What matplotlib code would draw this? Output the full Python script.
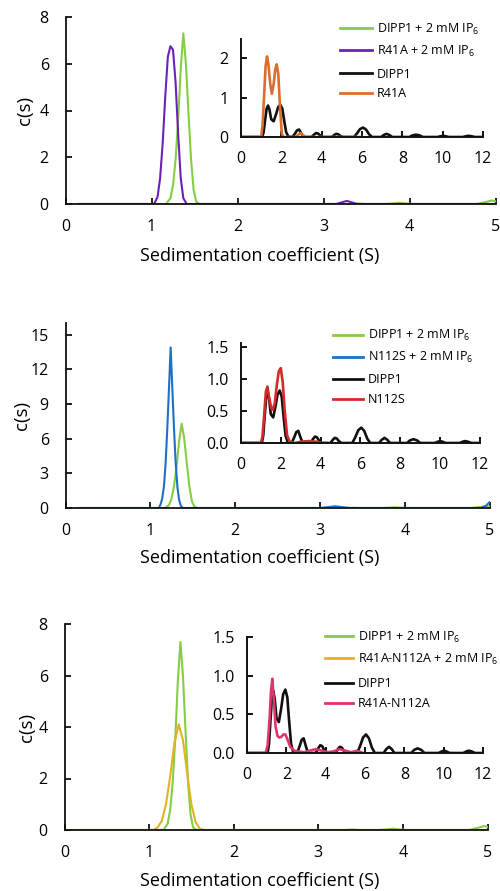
import matplotlib
matplotlib.use("Agg")
import matplotlib.pyplot as plt

plt.rcParams['font.family'] = ['Open Sans', 'DejaVu Sans']
plt.rcParams['mathtext.fontset'] = 'custom'
plt.rcParams['mathtext.rm'] = 'Open Sans'

# ---------------- data ----------------
# shared: DIPP1 + 2 mM IP6 (main panels)
dipp1_ip6_x = [0.15, 1.17, 1.22, 1.25, 1.28, 1.31, 1.34, 1.37, 1.40, 1.43, 1.46, 1.49,
               1.52, 1.56, 3.30, 3.40, 3.50, 3.70, 3.80, 3.88, 3.96, 4.05, 4.78, 4.88,
               4.96, 5.00]
dipp1_ip6_y = [0, 0, 0.25, 0.8, 1.9, 3.6, 5.8, 7.3, 6.0, 3.9, 1.9, 0.6,
               0.1, 0, 0, 0.02, 0, 0, 0.02, 0.05, 0.02, 0, 0, 0.08,
               0.15, 0.12]

# shared: DIPP1 (insets)
dipp1_x = [0, 1.05, 1.12, 1.20, 1.27, 1.34, 1.41, 1.50, 1.62, 1.74,
           1.84, 1.95, 2.05, 2.14, 2.24, 2.35, 2.55, 2.68, 2.78, 2.88,
           2.98, 3.10, 3.50, 3.62, 3.72, 3.82, 3.92, 4.05, 4.50, 4.62,
           4.72, 4.82, 4.92, 5.05, 5.60, 5.75, 5.90, 6.05, 6.20, 6.35,
           6.50, 6.95, 7.08, 7.22, 7.36, 7.50, 8.35, 8.50, 8.68, 8.86,
           9.02, 9.75, 9.90, 10.02, 10.14, 10.30, 11.00, 11.15, 11.28, 11.42,
           11.60, 12.00]
dipp1_y = [0, 0, 0.12, 0.45, 0.72, 0.80, 0.70, 0.45, 0.40, 0.58,
           0.76, 0.82, 0.72, 0.42, 0.12, 0.01, 0, 0.09, 0.17, 0.19,
           0.10, 0, 0, 0.06, 0.10, 0.09, 0.04, 0, 0, 0.05,
           0.08, 0.07, 0.03, 0, 0, 0.09, 0.20, 0.24, 0.19, 0.07,
           0, 0, 0.05, 0.08, 0.05, 0, 0, 0.04, 0.06, 0.04,
           0, 0, 0.02, 0.03, 0.02, 0, 0, 0.02, 0.03, 0.02,
           0, 0]

# panel 1
r41a_ip6_x = [0.15, 1.03, 1.07, 1.10, 1.13, 1.16, 1.19, 1.22, 1.25, 1.28, 1.31, 1.34,
              1.37, 1.41, 3.15, 3.22, 3.27, 3.32, 3.39, 5.0]
r41a_ip6_y = [0, 0, 0.3, 1.1, 2.6, 4.6, 6.3, 6.75, 6.6, 5.2, 3.0, 1.1,
              0.25, 0, 0, 0.08, 0.13, 0.08, 0, 0]
r41a_x = [0, 1.00, 1.07, 1.15, 1.22, 1.29, 1.36, 1.45, 1.53, 1.62, 1.70, 1.77, 1.85,
          1.93, 2.02, 2.10, 2.70, 2.85, 2.95, 3.05, 3.20, 6.0]
r41a_y = [0, 0, 0.3, 1.1, 1.8, 2.05, 1.85, 1.35, 1.1, 1.35, 1.72, 1.85, 1.6,
          0.8, 0.1, 0, 0, 0.06, 0.10, 0.06, 0, 0]

# panel 2
n112s_ip6_x = [0.2, 1.10, 1.12, 1.14, 1.16, 1.18, 1.20, 1.22, 1.24, 1.26, 1.28, 1.30,
               1.32, 1.34, 1.36, 1.38, 3.00, 3.10, 3.18, 3.26, 3.36, 4.90, 4.96, 5.00]
n112s_ip6_y = [0, 0, 0.3, 0.8, 1.8, 3.8, 6.8, 10.3, 13.9, 10.3, 6.8, 3.8,
               1.8, 0.7, 0.2, 0, 0, 0.08, 0.15, 0.08, 0, 0, 0.2, 0.5]
n112s_x = [0, 1.00, 1.08, 1.17, 1.25, 1.33, 1.42, 1.52, 1.60, 1.70, 1.80, 1.90, 2.00,
           2.10, 2.20, 2.32, 2.45, 2.70, 3.00, 3.40, 3.80, 4.10, 4.30]
n112s_y = [0, 0, 0.1, 0.45, 0.80, 0.88, 0.70, 0.55, 0.52, 0.62, 0.90, 1.12, 1.17,
           0.95, 0.50, 0.12, 0.02, 0, 0.02, 0.03, 0.02, 0, 0]

# panel 3
dm_ip6_x = [0, 1.05, 1.10, 1.15, 1.20, 1.25, 1.30, 1.35, 1.40, 1.45, 1.50, 1.55,
            1.60, 1.65, 5.0]
dm_ip6_y = [0, 0, 0.1, 0.35, 1.0, 2.1, 3.4, 4.1, 3.5, 2.2, 1.0, 0.3,
            0.05, 0, 0]
dm_x = [0, 0.95, 1.05, 1.15, 1.22, 1.29, 1.36, 1.45, 1.55, 1.65, 1.75, 1.85, 1.95,
        2.05, 2.20, 2.40, 2.60, 2.90, 3.20, 3.50, 3.80, 4.10, 4.40, 4.70, 5.00,
        5.30, 5.60, 5.90]
dm_y = [0, 0, 0.1, 0.45, 0.80, 0.96, 0.70, 0.35, 0.22, 0.20, 0.21, 0.24, 0.24,
        0.18, 0.08, 0.03, 0.02, 0.01, 0.03, 0.05, 0.03, 0.01, 0.02, 0.05, 0.03,
        0.01, 0.03, 0]

main_xticks = [0, 1, 2, 3, 4, 5]
inset_xticks = [0, 2, 4, 6, 8, 10, 12]
p1_yticks = [0, 2, 4, 6, 8]
p2_yticks = [0, 3, 6, 9, 12, 15]
p3_yticks = [0, 2, 4, 6, 8]
p1_inset_yticks = [0, 1, 2]
p2_inset_yticks = [0.0, 0.5, 1.0, 1.5]
p3_inset_yticks = [0.0, 0.5, 1.0, 1.5]

lbl_dipp1_ip6 = r'DIPP1 + 2 mM IP$_\mathregular{6}$'
lbl_r41a_ip6 = r'R41A + 2 mM IP$_\mathregular{6}$'
lbl_n112s_ip6 = r'N112S + 2 mM IP$_\mathregular{6}$'
lbl_dm_ip6 = r'R41A-N112A + 2 mM IP$_\mathregular{6}$'
lbl_dipp1 = 'DIPP1'
lbl_r41a = 'R41A'
lbl_n112s = 'N112S'
lbl_dm = 'R41A-N112A'

C_GREEN = '#86cc45'
C_PURPLE = '#6a22b8'
C_ORANGE = '#dc6d2a'
C_BLUE = '#1f6fc8'
C_RED = '#d62a2a'
C_GOLD = '#e2b320'
C_PINK = '#e0336f'
C_BLACK = '#111111'

# ---------------- figure ----------------
W, H = 500, 891
fig = plt.figure(figsize=(W / 100, H / 100), dpi=100)


def add_ax(left, right, bottom, top):
    return fig.add_axes([left / W, 1 - bottom / H, (right - left) / W, (bottom - top) / H])


def style(ax, ypad, xpad, lw=1.3):
    for s in ('top', 'right'):
        ax.spines[s].set_visible(False)
    for s in ('left', 'bottom'):
        ax.spines[s].set_linewidth(lw)
        ax.spines[s].set_color('#111111')
    ax.tick_params(direction='in', length=4.5, width=lw, labelsize=11.5, color='#111111')
    ax.tick_params(axis='y', pad=ypad)
    ax.tick_params(axis='x', pad=xpad)


def make_main(pos, ylim, yticks, xlabel_dy, ylabel_x):
    left, right, bottom, top = pos
    ax = add_ax(left, right, bottom, top)
    ax.set_xlim(0, 5)
    ax.set_ylim(*ylim)
    ax.set_xticks(main_xticks)
    ax.set_yticks(yticks)
    style(ax, 12, 11)
    ax.set_xlabel('Sedimentation coefficient (S)', fontsize=13, va='center')
    ax.xaxis.set_label_coords((260 - left) / (right - left), -xlabel_dy / (bottom - top))
    ax.set_ylabel('c(s)', fontsize=13.5, va='center')
    ax.yaxis.set_label_coords((ylabel_x - left) / (right - left), 0.5)
    return ax


def make_inset(pos, ylim, yticks, fmt):
    left, right, bottom, top = pos
    ax = add_ax(left, right, bottom, top)
    ax.patch.set_alpha(0)
    ax.set_xlim(0, 12)
    ax.set_ylim(*ylim)
    ax.set_xticks(inset_xticks)
    ax.set_yticks(yticks)
    ax.set_yticklabels([fmt.format(v) for v in yticks])
    style(ax, 9, 10, lw=1.4)
    return ax


def add_legends(ax, handles_a, handles_b, x_px, ya_px, yb_px, hl):
    common = dict(loc='center left', frameon=False, borderpad=0, borderaxespad=0,
                  handlelength=hl, handletextpad=0.4, labelspacing=0.55, fontsize=9,
                  bbox_transform=fig.transFigure)
    leg_a = ax.legend(handles=handles_a, bbox_to_anchor=(x_px / W, 1 - ya_px / H), **common)
    ax.add_artist(leg_a)
    leg_b = ax.legend(handles=handles_b, bbox_to_anchor=(x_px / W, 1 - yb_px / H), **common)
    for leg in (leg_a, leg_b):
        for ln in leg.get_lines():
            ln.set_linewidth(2.0)


LW_MAIN = 1.5
LW_INSET = 1.9

# ---- panel 1 ----
ax1 = make_main((65.5, 495.5, 204, 17), (0, 8), p1_yticks, 52, 25)
g1, = ax1.plot(dipp1_ip6_x, dipp1_ip6_y, color=C_GREEN, lw=LW_MAIN, label=lbl_dipp1_ip6)
m1, = ax1.plot(r41a_ip6_x, r41a_ip6_y, color=C_PURPLE, lw=LW_MAIN, label=lbl_r41a_ip6)
in1 = make_inset((241, 483, 137, 137 - 2.5 * 39.3), (0, 2.5), p1_inset_yticks, '{:.0f}')
k1, = in1.plot(dipp1_x, dipp1_y, color=C_BLACK, lw=LW_INSET, label=lbl_dipp1)
o1, = in1.plot(r41a_x, r41a_y, color=C_ORANGE, lw=LW_INSET, label=lbl_r41a)
add_legends(in1, [g1, m1], [k1, o1], 340, 40, 84, 2.55)

# ---- panel 2 ----
ax2 = make_main((65.5, 489.5, 508, 508 - 16 * 11.55), (0, 16), p2_yticks, 50, 22)
g2, = ax2.plot(dipp1_ip6_x, dipp1_ip6_y, color=C_GREEN, lw=LW_MAIN, label=lbl_dipp1_ip6)
b2, = ax2.plot(n112s_ip6_x, n112s_ip6_y, color=C_BLUE, lw=LW_MAIN, label=lbl_n112s_ip6)
in2 = make_inset((241, 479.5, 443, 443 - 1.56 * 64), (0, 1.56), p2_inset_yticks, '{:.1f}')
k2, = in2.plot(dipp1_x, dipp1_y, color=C_BLACK, lw=LW_INSET, label=lbl_dipp1)
r2, = in2.plot(n112s_x, n112s_y, color=C_RED, lw=LW_INSET, label=lbl_n112s)
add_legends(in2, [g2, b2], [k2, r2], 333, 346.5, 389.5, 2.4)

# ---- panel 3 ----
ax3 = make_main((64.5, 487.5, 830, 624), (0, 8), p3_yticks, 51, 27)
g3, = ax3.plot(dipp1_ip6_x, dipp1_ip6_y, color=C_GREEN, lw=LW_MAIN, label=lbl_dipp1_ip6)
y3, = ax3.plot(dm_ip6_x, dm_ip6_y, color=C_GOLD, lw=LW_MAIN, label=lbl_dm_ip6)
in3 = make_inset((247, 483, 753, 637), (0, 1.5), p3_inset_yticks, '{:.1f}')
k3, = in3.plot(dipp1_x, dipp1_y, color=C_BLACK, lw=LW_INSET, label=lbl_dipp1)
p3, = in3.plot(dm_x, dm_y, color=C_PINK, lw=LW_INSET, label=lbl_dm)
add_legends(in3, [g3, y3], [k3, p3], 325, 648, 693.5, 2.25)

fig.savefig('out.png', dpi=100)
